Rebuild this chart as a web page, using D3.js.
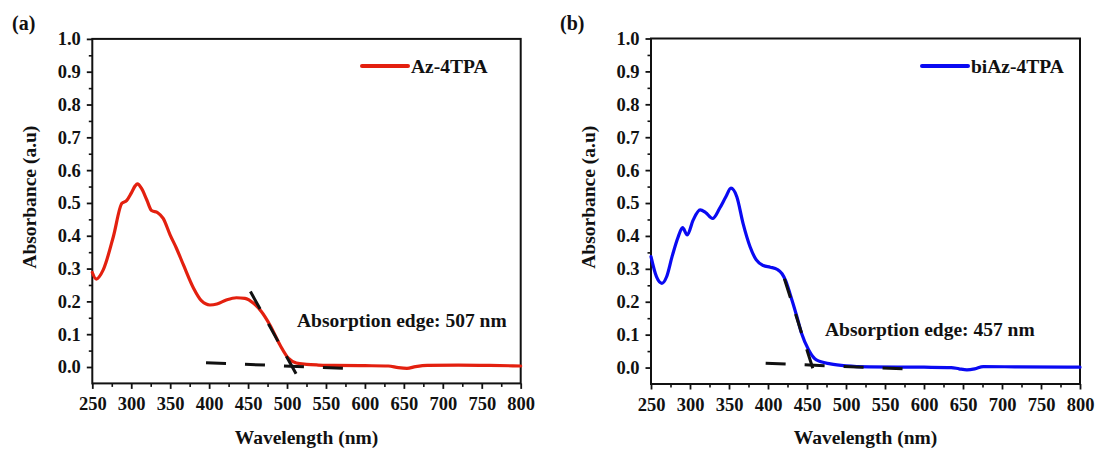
<!DOCTYPE html>
<html>
<head>
<meta charset="utf-8">
<script src="https://cdn.jsdelivr.net/npm/d3@7"></script>
<style>
  html, body { margin: 0; padding: 0; background: #fff; }
  svg { display: block; }
</style>
</head>
<body>
<svg id="chart" width="1096" height="450"></svg>
<script>
// ---------- data ----------
const xTicks = [250, 300, 350, 400, 450, 500, 550, 600, 650, 700, 750, 800];
const yTicks = [0.0, 0.1, 0.2, 0.3, 0.4, 0.5, 0.6, 0.7, 0.8, 0.9, 1.0];

const azName = "Az-4TPA";
const azWl  = [250,255,264,277,288,294,300,305,308,313,320,326,334,341,350,358,367,380,390,401,410,422,435,446,457,467,478,491,502,512,525,540,560,600,630,643,654,665,680,720,760,800];
const azAbs = [0.288,0.268,0.296,0.397,0.499,0.507,0.530,0.552,0.558,0.545,0.509,0.477,0.470,0.453,0.402,0.362,0.311,0.240,0.202,0.189,0.192,0.204,0.211,0.209,0.194,0.169,0.128,0.067,0.026,0.012,0.008,0.006,0.005,0.004,0.003,-0.002,-0.004,0.001,0.005,0.006,0.005,0.003];
const azEdgeLabel = "Absorption edge: 507 nm";
const azTangentWl  = [453, 515];
const azTangentAbs = [0.230, -0.035];
const azBaseWl  = [396, 573];
const azBaseAbs = [0.013, -0.004];

const biName = "biAz-4TPA";
const biWl  = [250,257,264,270,277,285,290.5,296.5,304,313,320,329,338,346,352.5,360,368,377,385,394,403,412,418,423,428,437,443,452,462,480,500,530,600,635,645,655,665,676,720,800];
const biAbs = [0.337,0.276,0.256,0.276,0.337,0.398,0.425,0.403,0.448,0.479,0.471,0.453,0.484,0.519,0.545,0.519,0.438,0.367,0.327,0.310,0.305,0.298,0.285,0.262,0.226,0.155,0.104,0.054,0.023,0.011,0.005,0.002,0.001,0.000,-0.004,-0.007,-0.004,0.003,0.002,0.001];
const biEdgeLabel = "Absorption edge: 457 nm";
const biTangentWl  = [421, 460];
const biTangentAbs = [0.270, -0.022];
const biBaseWl  = [397, 573];
const biBaseAbs = [0.013, -0.004];

// ---------- layout ----------
const svg = d3.select("#chart");
const FONT = "Liberation Serif";

const panels = [
  { tag: "(a)", tagX: 12, name: azName, wl: azWl, abs: azAbs, color: "#e3200f",
    tWl: azTangentWl, tAbs: azTangentAbs, bWl: azBaseWl, bAbs: azBaseAbs,
    label: azEdgeLabel, labelX: 297, labelY: 327,
    left: 92.3, right: 520.7, top: 38.9, bottom: 383.4, yTitleX: 36,
    legX1: 362, legX2: 408, legY: 66 },
  { tag: "(b)", tagX: 560, name: biName, wl: biWl, abs: biAbs, color: "#0a0af2",
    tWl: biTangentWl, tAbs: biTangentAbs, bWl: biBaseWl, bAbs: biBaseAbs,
    label: biEdgeLabel, labelX: 825, labelY: 336,
    left: 651, right: 1080, top: 38.5, bottom: 384, yTitleX: 595,
    legX1: 922, legX2: 968, legY: 66 }
];

panels.forEach(p => {
  const x = d3.scaleLinear().domain([250, 800]).range([p.left, p.right]);
  const y = d3.scaleLinear().domain([-0.05, 1.0]).range([p.bottom, p.top]);
  const g = svg.append("g");

  // minor ticks
  const xMinor = d3.range(275, 800, 50);
  const yMinor = d3.range(0.05, 1.0, 0.1);
  const xMinorAxis = g.append("g").attr("transform", `translate(0,${p.bottom})`)
    .call(d3.axisBottom(x).tickValues(xMinor).tickSize(3.5).tickFormat(""));
  const yMinorAxis = g.append("g").attr("transform", `translate(${p.left},0)`)
    .call(d3.axisLeft(y).tickValues(yMinor).tickSize(3.5).tickFormat(""));
  [xMinorAxis, yMinorAxis].forEach(a => {
    a.select(".domain").remove();
    a.selectAll("line").attr("stroke", "#111").attr("stroke-width", 1.6);
  });

  // major ticks
  const xAxis = g.append("g").attr("transform", `translate(0,${p.bottom})`)
    .call(d3.axisBottom(x).tickValues(xTicks).tickSize(5.5).tickPadding(8).tickFormat(d3.format("d")));
  const yAxis = g.append("g").attr("transform", `translate(${p.left},0)`)
    .call(d3.axisLeft(y).tickValues(yTicks).tickSize(5.5).tickPadding(6).tickFormat(d3.format(".1f")));
  [xAxis, yAxis].forEach(a => {
    a.attr("font-family", FONT).attr("font-weight", "bold").attr("font-size", 18.5);
    a.select(".domain").remove();
    a.selectAll("line").attr("stroke", "#111").attr("stroke-width", 1.8);
    a.selectAll("text").attr("fill", "#111");
  });

  // frame
  g.append("rect")
    .attr("x", p.left).attr("y", p.top)
    .attr("width", p.right - p.left).attr("height", p.bottom - p.top)
    .attr("fill", "none").attr("stroke", "#111").attr("stroke-width", 2);

  // curve
  const pts = p.wl.map((w, i) => [w, p.abs[i]]);
  const line = d3.line().x(d => x(d[0])).y(d => y(d[1])).curve(d3.curveMonotoneX);
  g.append("path").datum(pts)
    .attr("d", line).attr("fill", "none")
    .attr("stroke", p.color).attr("stroke-width", 3.2)
    .attr("stroke-linejoin", "round").attr("stroke-linecap", "round");

  // tangent + baseline dashed lines
  const straight = d3.line().x(d => x(d[0])).y(d => y(d[1]));
  g.append("path").datum(p.tWl.map((w, i) => [w, p.tAbs[i]]))
    .attr("d", straight).attr("fill", "none").attr("stroke", "#111")
    .attr("stroke-width", 3).attr("stroke-dasharray", "20,17");
  g.append("path").datum(p.bWl.map((w, i) => [w, p.bAbs[i]]))
    .attr("d", straight).attr("fill", "none").attr("stroke", "#111")
    .attr("stroke-width", 3).attr("stroke-dasharray", "20,19");

  const txt = sel => sel.attr("font-family", FONT).attr("font-weight", "bold").attr("fill", "#111");

  // legend
  g.append("line").attr("x1", p.legX1).attr("x2", p.legX2)
    .attr("y1", p.legY).attr("y2", p.legY)
    .attr("stroke", p.color).attr("stroke-width", 4).attr("stroke-linecap", "round");
  g.append("text").call(txt).attr("x", p.legX2 + 3).attr("y", p.legY + 7)
    .attr("font-size", 19.5).text(p.name);

  // annotation
  g.append("text").call(txt).attr("x", p.labelX).attr("y", p.labelY)
    .attr("font-size", 19.5).text(p.label);

  // axis titles
  g.append("text").call(txt)
    .attr("x", (p.left + p.right) / 2).attr("y", 444)
    .attr("text-anchor", "middle").attr("font-size", 19.5)
    .text("Wavelength (nm)");
  g.append("text").call(txt)
    .attr("transform", `translate(${p.yTitleX},${(p.top + p.bottom) / 2 - 14}) rotate(-90)`)
    .attr("text-anchor", "middle").attr("font-size", 19.5)
    .text("Absorbance (a.u)");

  // panel tag
  svg.append("text").call(txt).attr("x", p.tagX).attr("y", 30)
    .attr("font-size", 20).text(p.tag);
});
</script>
</body>
</html>
